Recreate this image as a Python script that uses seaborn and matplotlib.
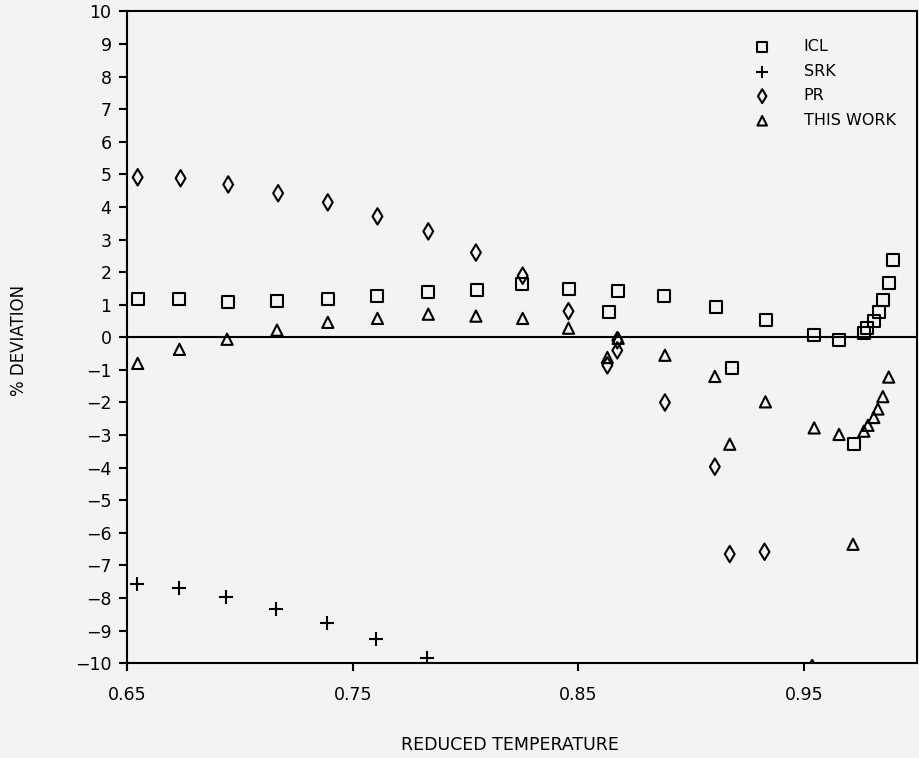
import matplotlib
matplotlib.use("Agg")
import matplotlib.pyplot as plt
import seaborn as sns
import numpy as np

# ---- data ----
icl_x = [0.655, 0.673, 0.695, 0.7165, 0.739, 0.761, 0.7835, 0.805, 0.825, 0.846,
         0.8675, 0.8635, 0.888, 0.911, 0.918, 0.933, 0.9545, 0.9655, 0.972, 0.9765,
         0.978, 0.981, 0.983, 0.985, 0.9875, 0.9895]
icl_y = [1.18, 1.18, 1.09, 1.12, 1.18, 1.28, 1.40, 1.46, 1.65, 1.49,
         1.43, 0.78, 1.28, 0.94, -0.94, 0.54, 0.08, -0.08, -3.28, 0.14,
         0.29, 0.51, 0.78, 1.15, 1.68, 2.37]

srk_x = [0.6543, 0.673, 0.694, 0.716, 0.7385, 0.7605, 0.783]
srk_y = [-7.58, -7.68, -7.98, -8.35, -8.75, -9.25, -9.83]

pr_x = [0.6548, 0.6738, 0.6949, 0.717, 0.739, 0.761, 0.7835, 0.8046, 0.8253, 0.8456,
        0.8672, 0.8672, 0.8628, 0.8883, 0.9104, 0.917, 0.9324, 0.9535]
pr_y = [4.91, 4.88, 4.69, 4.42, 4.14, 3.71, 3.25, 2.60, 1.89, 0.80,
        -0.09, -0.40, -0.86, -2.00, -3.97, -6.65, -6.58, -10.15]

tw_x = [0.6548, 0.6733, 0.6944, 0.7165, 0.739, 0.761, 0.7835, 0.8046, 0.8253, 0.8456,
        0.8676, 0.8628, 0.8883, 0.9104, 0.917, 0.9328, 0.9544, 0.9654, 0.9716, 0.9764,
        0.9782, 0.9808, 0.9826, 0.9848, 0.9874]
tw_y = [-0.80, -0.37, -0.06, 0.22, 0.46, 0.58, 0.71, 0.65, 0.58, 0.28,
        -0.03, -0.62, -0.55, -1.2, -3.28, -1.98, -2.78, -2.98, -6.35, -2.88,
        -2.7, -2.46, -2.2, -1.82, -1.22]

series_labels = ["ICL", "SRK", "PR", "THIS WORK"]
x_major = [0.65, 0.75, 0.85, 0.95]
x_minor = [0.70, 0.80, 0.90]
y_ticks = list(range(-10, 11))

# ---- figure ----
sns.set_style("white")
plt.rcParams['font.family'] = ['DejaVu Sans']
plt.rcParams['text.color'] = 'black'
plt.rcParams['axes.labelcolor'] = 'black'
bg = "#f3f3f1"
fig = plt.figure(figsize=(9.19, 7.58), dpi=100, facecolor=bg)
ax = fig.add_axes([0.138, 0.125, 0.860, 0.860])
ax.set_facecolor(bg)

lw = 1.5
sns.scatterplot(x=icl_x, y=icl_y, marker="s", s=75, facecolors="none",
                edgecolor="black", color="black", linewidth=lw, ax=ax, label=series_labels[0])
sns.scatterplot(x=srk_x, y=srk_y, marker="+", s=90, color="black",
                linewidth=lw, ax=ax, label=series_labels[1])
sns.scatterplot(x=pr_x, y=pr_y, marker="d", s=70, facecolors="none",
                edgecolor="black", color="black", linewidth=lw, ax=ax, label=series_labels[2])
sns.scatterplot(x=tw_x, y=tw_y, marker="^", s=65, facecolors="none",
                edgecolor="black", color="black", linewidth=lw, ax=ax, label=series_labels[3])

ax.axhline(0, color="black", lw=1.5, zorder=1)

ax.set_xlim(0.65, 1.0)
ax.set_ylim(-10, 10)
ax.set_xticks(x_major)
ax.set_xticklabels([f"{v:.2f}" for v in x_major])
ax.set_xticks(x_minor, minor=True)
ax.set_yticks(y_ticks)
ax.set_yticklabels([str(v).replace("-", "\u2212") for v in y_ticks])

ax.tick_params(axis="both", which="both", direction="out", length=6, width=1.5,
               colors="black", labelsize=12.5)
ax.tick_params(axis="x", which="major", pad=10.5)
ax.tick_params(axis="y", which="major", pad=5)
ax.tick_params(left=True, bottom=True)

for sp in ax.spines.values():
    sp.set_visible(True)
    sp.set_color("black")
    sp.set_linewidth(1.5)

ax.set_xlabel("REDUCED TEMPERATURE", fontsize=12.5)
ax.xaxis.set_label_coords(0.485, -0.112)
ax.set_ylabel("% DEVIATION", fontsize=12)
ax.yaxis.set_label_coords(-0.125, 0.495)

leg = ax.legend(loc="upper right", bbox_to_anchor=(0.985, 0.972), frameon=False,
                fontsize=11.5, handletextpad=1.6, labelspacing=0.6,
                markerscale=0.85, borderaxespad=0.2)
for t in leg.get_texts():
    t.set_color("black")

fig.savefig("out.png", dpi=100, facecolor=bg)
